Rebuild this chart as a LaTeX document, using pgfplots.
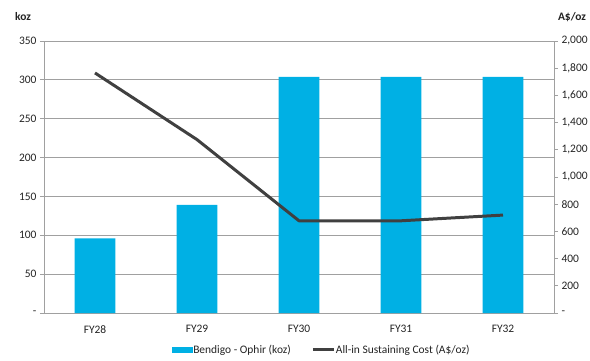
\documentclass[border=0pt]{standalone}
\usepackage{pgfplots}
\pgfplotsset{compat=1.18}
\usepackage{fontspec}
\setmainfont{Carlito}
\definecolor{barc}{RGB}{0,176,228}
\definecolor{linec}{RGB}{64,64,64}
\definecolor{gridc}{RGB}{160,160,160}
\definecolor{txt}{RGB}{35,35,35}
\begin{document}
\begin{tikzpicture}[x=1bp,y=1bp]
\path[use as bounding box] (-44,-47) rectangle (546,313);
\begin{axis}[
  at={(0,0)}, anchor=south west,
  scale only axis, width=510bp, height=272bp,
  xmin=-0.5, xmax=4.5, ymin=0, ymax=350,
  axis y line*=left, axis x line*=bottom,
  axis line style={gridc, line width=0.8pt, -},
  xtick={0,1,2,3,4}, xticklabels={FY28,FY29,FY30,FY31,FY32},
  extra x ticks={-0.5,0.5,1.5,2.5,3.5,4.5},
  extra x tick labels={},
  extra x tick style={major tick length=5bp, tick style={gridc,line width=0.8pt}, tick pos=bottom, tick align=outside, grid=none},
  x tick label style={yshift=-5bp},
  xtick style={draw=none},
  ytick={0,50,100,150,200,250,300,350},
  yticklabels={-,50,100,150,200,250,300,350},
  ytick style={gridc, line width=0.8pt},
  tick align=outside, major tick length=4bp,
  ymajorgrids, grid style={gridc, line width=0.8pt},
  tick label style={font=\fontsize{11.5}{13}\selectfont, text=txt},
  /pgf/number format/assume math mode=true,
  legend style={draw=none, fill=none, at={(0.543,-0.135)}, anchor=center, legend columns=2,
    font=\fontsize{11.5}{13}\selectfont, text=txt, /tikz/every even column/.append style={column sep=20bp},
    inner sep=0pt, nodes={inner sep=0.5pt}},
  legend cell align=left,
  legend image code/.code={\fill[barc] (0bp,-3bp) rectangle (21bp,3bp);},
]
\addplot[ybar, bar width=0.4, fill=barc, draw=none] coordinates {(0,96) (1,139) (2,304) (3,304) (4,304)};
\addlegendentry{Bendigo - Ophir (koz)}
\addlegendimage{legend image code/.code={\draw[linec, line width=3pt] (0bp,0bp) -- (21bp,0bp);}}
\addlegendentry{All-in Sustaining Cost (A\$/oz)}
\end{axis}
\begin{axis}[
  at={(0,0)}, anchor=south west,
  scale only axis, width=510bp, height=272bp,
  xmin=-0.5, xmax=4.5, ymin=0, ymax=2000,
  axis y line*=right, axis x line=none,
  axis line style={gridc, line width=0.8pt, -},
  ytick={0,200,400,600,800,1000,1200,1400,1600,1800,2000},
  yticklabels={-,200,400,600,800,{1,000},{1,200},{1,400},{1,600},{1,800},{2,000}},
  ytick style={gridc, line width=0.8pt},
  tick align=outside, major tick length=4bp,
  tick label style={font=\fontsize{11.5}{13}\selectfont, text=txt},
  /pgf/number format/assume math mode=true,
]
\addplot[linec, line width=3pt, line join=round] coordinates {(0,1765) (1,1275) (2,678) (3,678) (4,720)};
\end{axis}
\node[font=\bfseries\fontsize{11.5}{13}\selectfont, text=txt] at (-21,296) {koz};
\node[font=\bfseries\fontsize{11.5}{13}\selectfont, text=txt] at (528,296) {A\$/oz};
\end{tikzpicture}
\end{document}
